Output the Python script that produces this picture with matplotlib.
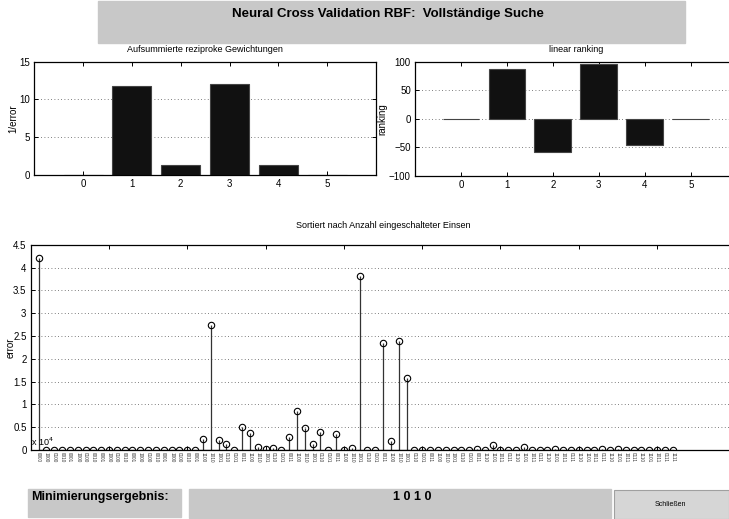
import matplotlib
matplotlib.use("Agg")
import matplotlib.pyplot as plt
import numpy as np
from matplotlib.patches import Rectangle

plt.rcParams["font.family"] = ["Liberation Sans", "DejaVu Sans"]

# ---- data ----
feat_idx = [0, 1, 2, 3, 4, 5]
inv_error = [0.0, 11.8, 1.37, 12.0, 1.37, 0.0]
ranking = [0.0, 87.0, -58.0, 96.0, -47.0, 0.0]

# error (x 10^4), sorted by number of ones
err = [4.20,
       0, 0, 0, 0, 0, 0, 0, 0, 0, 0, 0, 0, 0, 0, 0, 0, 0, 0, 0, 0,
       0.25, 2.73, 0.23, 0.13, 0.01, 0.51, 0.37, 0.06, 0.03, 0.04,
       0.01, 0.29, 0.86, 0.49, 0.13, 0.39, 0.01, 0.34, 0.01, 0.04,
       3.82, 0.01, 0.01, 2.35, 0.19, 2.40, 1.57, 0.01, 0, 0,
       0, 0, 0, 0, 0, 0.02, 0.01, 0.10, 0, 0,
       0, 0.06, 0, 0, 0, 0.03, 0.01, 0.01, 0.01, 0.01,
       0.01, 0.03, 0, 0.03, 0, 0, 0, 0, 0, 0, 0]
combo_labels = (["0000"]
                + ["1000", "0100", "0010", "0001"] * 5
                + ["1100", "1010", "1001", "0110", "0101", "0011"] * 6
                + ["1110", "1101", "1011", "0111"] * 6
                + ["1111"])
result_bits = "1 0 1 0"

W, H = 729, 519
fig = plt.figure(figsize=(W / 100, H / 100), dpi=100)
fig.patch.set_facecolor("white")


def px(x0, y0, x1, y1):
    """pixel box (top-left origin) -> figure rect"""
    return [x0 / W, 1 - y1 / H, (x1 - x0) / W, (y1 - y0) / H]


def style(ax):
    ax.tick_params(direction="in", length=3, width=0.7, labelsize=7,
                   top=True, right=True, pad=3)
    for s in ax.spines.values():
        s.set_linewidth(0.9)
    ax.yaxis.grid(True, linestyle=(0, (1, 3)), color="#555555", linewidth=0.6)
    ax.set_axisbelow(True)


# ---- header ----
fig.patches.append(Rectangle((98 / W, 1 - 43 / H), 587 / W, 42 / H,
                             transform=fig.transFigure, color="#c8c8c8", zorder=0))
fig.text(388 / W, 1 - 14 / H, "Neural Cross Validation RBF:  Vollständige Suche",
         ha="center", va="center", fontsize=9.5, fontweight="bold")

# ---- A: reciprocal weights ----
ax1 = fig.add_axes(px(34.3, 61.7, 376, 175))
style(ax1)
ax1.bar(feat_idx, inv_error, width=0.8, color="#111111", edgecolor="#444444", linewidth=0.8)
ax1.set_xlim(-1, 6)
ax1.set_ylim(0, 15)
ax1.set_xticks(feat_idx)
ax1.set_yticks([0, 5, 10, 15])
ax1.set_ylabel("1/error", fontsize=7, labelpad=1)
ax1.set_title("Aufsummierte reziproke Gewichtungen", fontsize=6.5, pad=7)

# ---- B: linear ranking ----
ax2 = fig.add_axes(px(415, 61.7, 736.7, 175.7))
style(ax2)
ax2.bar(feat_idx, ranking, width=0.8, color="#111111", edgecolor="#444444", linewidth=0.8)
ax2.set_xlim(-1, 6)
ax2.set_ylim(-100, 100)
ax2.set_xticks(feat_idx)
ax2.set_yticks([-100, -50, 0, 50, 100])
ax2.set_yticklabels(["\u2212100", "\u221250", "0", "50", "100"])
ax2.set_ylabel("ranking", fontsize=7, labelpad=1)
ax2.set_title("linear ranking", fontsize=6.5, pad=7)

# ---- C: stem plot ----
ax3 = fig.add_axes(px(30.7, 244.7, 735.4, 450))
style(ax3)
xs = np.arange(1, len(err) + 1)
ml, sl, bl = ax3.stem(xs, err, linefmt="-", markerfmt="o", basefmt="-")
plt.setp(sl, color="#333333", linewidth=0.9)
plt.setp(ml, markerfacecolor="none", markeredgecolor="black", markersize=4.6,
         markeredgewidth=0.8)
plt.setp(bl, color="black", linewidth=0.9)
ax3.set_xlim(0, 90)
ax3.set_ylim(0, 4.5)
ax3.set_yticks(np.arange(0, 4.51, 0.5))
ax3.set_yticklabels(["0", "0.5", "1", "1.5", "2", "2.5", "3", "3.5", "4", "4.5"])
ax3.set_xticks(np.arange(10, 90, 10))
ax3.set_xticklabels([])
ax3.set_ylabel("error", fontsize=7, labelpad=-2)
ax3.set_title("Sortiert nach Anzahl eingeschalteter Einsen", fontsize=6.5, pad=12)
ax3.text(0.0, 0.01, r"x 10$^4$", transform=ax3.transAxes, fontsize=6.5,
         ha="left", va="bottom")
for x, lab in zip(xs, combo_labels):
    ax3.text(x, -0.05, lab, rotation=270, fontsize=3.4, color="#333333",
             ha="center", va="top", clip_on=False)

# ---- bottom controls ----
fig.patches.append(Rectangle((28 / W, 1 - 517 / H), 153 / W, 28 / H,
                             transform=fig.transFigure, color="#c8c8c8", zorder=0))
fig.text(31 / W, 1 - 497 / H, "Minimierungsergebnis:", ha="left", va="center",
         fontsize=9, fontweight="bold")
fig.patches.append(Rectangle((189 / W, 1 - 518 / H), 422 / W, 29 / H,
                             transform=fig.transFigure, color="#c8c8c8", zorder=0))
fig.text(412 / W, 1 - 497 / H, result_bits, ha="center", va="center",
         fontsize=9, fontweight="bold")
fig.patches.append(Rectangle((614 / W, 1 - 519 / H), 115 / W, 29 / H,
                             transform=fig.transFigure, facecolor="#d6d6d6",
                             edgecolor="#a0a0a0", linewidth=0.8, zorder=0))
fig.text(670 / W, 1 - 504 / H, "Schließen", ha="center", va="center", fontsize=5)

fig.savefig("out.png", dpi=100)
